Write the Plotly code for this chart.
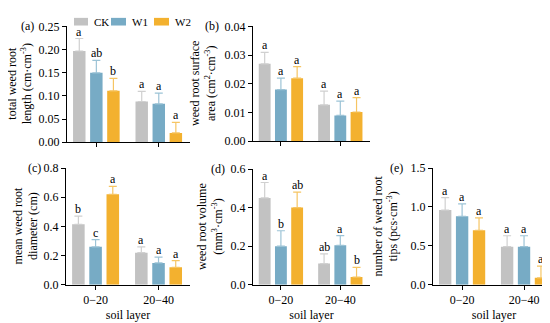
import plotly.graph_objects as go

W, H = 550, 323
layers = ["0\u221220", "20\u221240"]
treatments = ["CK", "W1", "W2"]
colors = {"CK": "#C2C2C2", "W1": "#77ABC5", "W2": "#F3B12F"}
err_colors = {"CK": "#D0D0D0", "W1": "#9CC3D6", "W2": "#F6C563"}

# panel (a) total weed root length
a_mean = {"CK": [0.197, 0.088], "W1": [0.150, 0.083], "W2": [0.111, 0.020]}
a_err = {"CK": [0.027, 0.022], "W1": [0.027, 0.023], "W2": [0.027, 0.023]}
a_let = {"CK": ["a", "a"], "W1": ["ab", "a"], "W2": ["b", "a"]}
# panel (b) weed root surface area
b_mean = {"CK": [0.027, 0.0127], "W1": [0.018, 0.009], "W2": [0.022, 0.0102]}
b_err = {"CK": [0.004, 0.0048], "W1": [0.004, 0.005], "W2": [0.004, 0.005]}
b_let = {"CK": ["a", "a"], "W1": ["a", "a"], "W2": ["a", "a"]}
# panel (c) mean weed root diameter
c_mean = {"CK": [0.415, 0.22], "W1": [0.26, 0.15], "W2": [0.62, 0.12]}
c_err = {"CK": [0.055, 0.04], "W1": [0.05, 0.04], "W2": [0.055, 0.045]}
c_let = {"CK": ["b", "a"], "W1": ["c", "a"], "W2": ["a", "a"]}
# panel (d) weed root volume
d_mean = {"CK": [0.45, 0.11], "W1": [0.20, 0.205], "W2": [0.40, 0.04]}
d_err = {"CK": [0.08, 0.05], "W1": [0.08, 0.05], "W2": [0.08, 0.05]}
d_let = {"CK": ["a", "ab"], "W1": ["b", "a"], "W2": ["ab", "b"]}
# panel (e) number of weed root tips
e_mean = {"CK": [0.96, 0.49], "W1": [0.88, 0.49], "W2": [0.70, 0.09]}
e_err = {"CK": [0.16, 0.14], "W1": [0.16, 0.14], "W2": [0.16, 0.15]}
e_let = {"CK": ["a", "a"], "W1": ["a", "a"], "W2": ["a", "a"]}

panels = [
    dict(lab="(a)", mean=a_mean, err=a_err, let=a_let, ymax=0.25, dt=0.05, fmt=".2f",
         title="total weed root<br>length (cm\u00b7cm<sup>-3</sup>)", tx=12,
         px=(59, 182), py=(12, 133), labx=28, bottom=False),
    dict(lab="(b)", mean=b_mean, err=b_err, let=b_let, ymax=0.04, dt=0.01, fmt=".2f",
         title="weed root surface<br>area (cm<sup>2</sup>\u00b7cm<sup>-3</sup>)", tx=195,
         px=(245, 362), py=(12, 132), labx=213, bottom=False),
    dict(lab="(c)", mean=c_mean, err=c_err, let=c_let, ymax=0.8, dt=0.2, fmt=".1f",
         title="mean weed root<br>diameter (cm)", tx=18,
         px=(58, 182), py=(160, 282), labx=35, bottom=True),
    dict(lab="(d)", mean=d_mean, err=d_err, let=d_let, ymax=0.6, dt=0.2, fmt=".1f",
         title="weed root volume<br>(mm<sup>3</sup>\u00b7cm<sup>-3</sup>)", tx=202,
         px=(245, 362), py=(161, 282), labx=219, bottom=True),
    dict(lab="(e)", mean=e_mean, err=e_err, let=e_let, ymax=1.5, dt=0.5, fmt=".1f",
         title="number of weed root<br>tips (pcs\u00b7cm<sup>-3</sup>)", tx=378,
         px=(425, 547), py=(160, 282), labx=397, bottom=True),
]

FONT = "Liberation Serif"
FS = 12
fig = go.Figure()
annotations = []
shapes = []
bargap, bgg = 0.18, 0.27
slot = (1 - bargap) / 3
layout = {}
for i, p in enumerate(panels):
    k = "" if i == 0 else str(i + 1)
    xa, ya = "x" + k, "y" + k
    for j, t in enumerate(treatments):
        fig.add_trace(go.Bar(
            x=[0, 1], y=p["mean"][t], name=t, marker_color=colors[t],
            marker_line_width=0, showlegend=False,
            error_y=dict(type="data", array=p["err"][t], arrayminus=[0, 0], symmetric=False,
                         color=err_colors[t], thickness=1.2, width=4),
            xaxis=xa, yaxis=ya))
        for c in range(2):
            annotations.append(dict(
                x=c + (j - 1) * slot, y=p["mean"][t][c] + p["err"][t][c],
                xref=xa, yref=ya, text=p["let"][t][c], showarrow=False,
                yanchor="bottom", yshift=-2, font=dict(family=FONT, size=FS, color="black")))
    x0, x1 = p["px"]
    y0, y1 = p["py"]
    layout["xaxis" + k] = dict(
        domain=[x0 / W, x1 / W], anchor=ya, range=[-0.47, 1.5],
        tickvals=[0, 1], ticktext=layers, showticklabels=p["bottom"],
        ticks="outside", ticklen=4, tickwidth=1, tickcolor="black",
        showline=True, linecolor="black", linewidth=1, showgrid=False, zeroline=False,
        tickfont=dict(family=FONT, size=FS, color="black"),
        title=dict(text="soil layer" if p["bottom"] else "", standoff=4,
                   font=dict(family=FONT, size=FS, color="black")))
    tv = []
    v = 0.0
    while v <= p["ymax"] + 1e-9:
        tv.append(round(v, 4))
        v += p["dt"]
    layout["yaxis" + k] = dict(
        domain=[1 - y1 / H, 1 - y0 / H], anchor=xa, range=[0, p["ymax"]],
        tickvals=tv, tickformat=p["fmt"],
        ticks="outside", ticklen=4, tickwidth=1, tickcolor="black",
        showline=True, linecolor="black", linewidth=1, showgrid=False, zeroline=False,
        tickfont=dict(family=FONT, size=FS, color="black"))
    # y-axis title as rotated two-line text
    annotations.append(dict(
        x=p["tx"] / W, y=1 - (y0 + y1) / 2 / H, xref="paper", yref="paper",
        text=p["title"], textangle=-90, showarrow=False,
        xanchor="center", yanchor="middle",
        font=dict(family=FONT, size=FS, color="black")))
    annotations.append(dict(
        x=p["labx"] / W, y=1 - y0 / H, xref="paper", yref="paper", text=p["lab"],
        showarrow=False, xanchor="right", yanchor="middle",
        font=dict(family=FONT, size=FS, color="black")))

# legend drawn as swatches + labels at top of panel (a)
leg_sw = {"CK": (66, 80), "W1": (103, 118), "W2": (146, 161)}
for t in treatments:
    sx0, sx1 = leg_sw[t]
    shapes.append(dict(type="rect", xref="paper", yref="paper",
                       x0=sx0 / W, x1=sx1 / W, y0=1 - 11 / H, y1=1 - 3 / H,
                       fillcolor=colors[t], line_width=0))
    annotations.append(dict(x=(sx1 + 4) / W, y=1 - 7 / H, xref="paper", yref="paper",
                            text=t, showarrow=False, xanchor="left", yanchor="middle",
                            font=dict(family=FONT, size=11, color="black")))

fig.update_layout(
    width=W, height=H, margin=dict(l=0, r=0, t=0, b=0),
    paper_bgcolor="white", plot_bgcolor="white",
    barmode="group", bargap=bargap, bargroupgap=bgg,
    font=dict(family=FONT, size=FS, color="black"),
    showlegend=False,
    annotations=annotations, shapes=shapes, **layout)
fig.write_html("out.html")
